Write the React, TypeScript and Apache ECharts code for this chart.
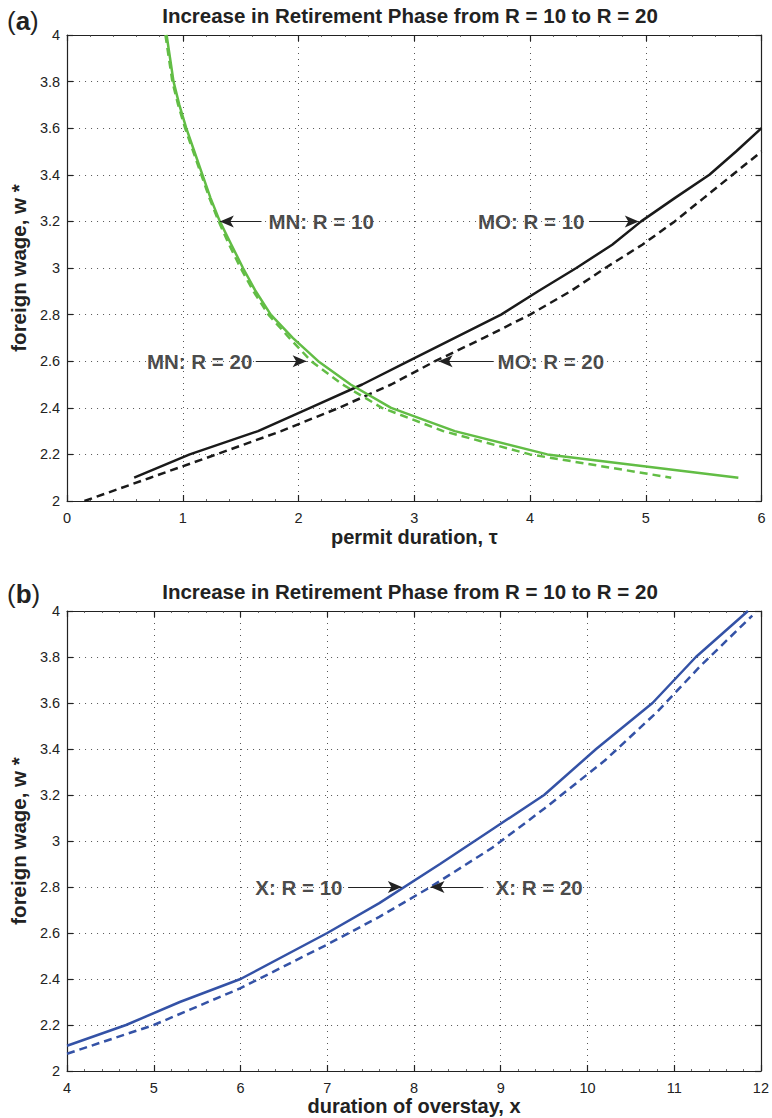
import React, { useEffect, useRef } from "react";
import * as echarts from "echarts";

// ---------- Panel (a) data: permit duration (tau) vs foreign wage (w*) ----------
const moR10Tau = [0.58, 1.06, 1.65, 2.1, 2.55, 2.95, 3.35, 3.75, 4.07, 4.4, 4.71, 4.96, 5.25, 5.55, 5.78, 6.0];
const moR10W = [2.1, 2.2, 2.3, 2.4, 2.5, 2.6, 2.7, 2.8, 2.9, 3.0, 3.1, 3.2, 3.3, 3.4, 3.5, 3.6];

const moR20Tau = [0.15, 0.72, 1.29, 1.85, 2.35, 2.8, 3.18, 3.6, 4.0, 4.35, 4.65, 4.97, 5.25, 5.5, 5.75, 6.0];
const moR20W = [2.0, 2.1, 2.2, 2.3, 2.4, 2.5, 2.6, 2.7, 2.8, 2.9, 3.0, 3.1, 3.2, 3.3, 3.4, 3.5];

const mnR10Tau = [0.86, 0.89, 0.92, 0.97, 1.03, 1.1, 1.17, 1.24, 1.32, 1.42, 1.52, 1.63, 1.76, 1.95, 2.17, 2.45, 2.8, 3.35, 4.15, 5.8];
const mnR10W = [4.0, 3.9, 3.8, 3.7, 3.6, 3.5, 3.4, 3.3, 3.2, 3.1, 3.0, 2.9, 2.8, 2.7, 2.6, 2.5, 2.4, 2.3, 2.2, 2.1];

const mnR20Tau = [0.85, 0.88, 0.91, 0.96, 1.02, 1.09, 1.16, 1.23, 1.31, 1.4, 1.5, 1.61, 1.74, 1.92, 2.11, 2.38, 2.72, 3.25, 4.0, 5.22];
const mnR20W = [4.0, 3.9, 3.8, 3.7, 3.6, 3.5, 3.4, 3.3, 3.2, 3.1, 3.0, 2.9, 2.8, 2.7, 2.6, 2.5, 2.4, 2.3, 2.2, 2.1];

// ---------- Panel (b) data: duration of overstay (x) vs foreign wage (w*) ----------
const xR10X = [4.0, 4.68, 5.3, 6.0, 7.0, 7.6, 8.3, 8.9, 9.5, 10.1, 10.75, 11.25, 11.85];
const xR10W = [2.11, 2.2, 2.3, 2.4, 2.6, 2.73, 2.9, 3.05, 3.2, 3.4, 3.6, 3.8, 4.0];

const xR20X = [4.0, 5.0, 6.0, 7.0, 7.6, 8.19, 8.9, 9.5, 10.2, 10.8, 11.3, 11.9];
const xR20W = [2.075, 2.2, 2.36, 2.55, 2.67, 2.8, 2.97, 3.14, 3.35, 3.56, 3.76, 3.98];

// ---------- Text ----------
const titleText = "Increase in Retirement Phase from R = 10 to R = 20";
const yName = "foreign wage, w *";
const xNameA = "permit duration, \u03c4";
const xNameB = "duration of overstay, x";

// annotations: [label, textX, y, arrowFromX, arrowToX]
const annotA: [string, number, number, number, number][] = [
  ["MN: R = 10", 1.74, 3.2, 1.68, 1.32],
  ["MN: R = 20", 0.69, 2.6, 1.63, 2.07],
  ["MO: R = 10", 3.55, 3.2, 4.51, 4.94],
  ["MO: R = 20", 3.72, 2.6, 3.68, 3.21],
];
const annotB: [string, number, number, number, number][] = [
  ["X: R = 10", 6.17, 2.8, 7.24, 7.86],
  ["X: R = 20", 8.94, 2.8, 8.8, 8.19],
];

const FONT = "'Liberation Sans', Arial, Helvetica, sans-serif";
const BLACK = "#1a1a1a";
const GREEN = "#62bd45";
const BLUE = "#3452a6";

const pairs = (xs: number[], ys: number[]) => xs.map((x, i) => [x, ys[i]]);

function xAxes(gridIndex: number, min: number, max: number, name: string, nameGap: number) {
  const common = {
    gridIndex,
    type: "value",
    min,
    max,
    interval: 1,
    axisLine: { show: true, onZero: false, lineStyle: { color: "#222", width: 1.2 } },
    axisTick: { show: true, inside: true, length: 6, lineStyle: { color: "#222", width: 1.2 } },
    minorTick: { show: true, splitNumber: 5, length: 2, lineStyle: { color: "#444", width: 0.8 } },
  };
  return [
    {
      ...common,
      position: "bottom",
      name,
      nameLocation: "middle",
      nameGap,
      nameTextStyle: { fontFamily: FONT, fontSize: 20, fontWeight: "bold", color: "#222", verticalAlign: "middle" },
      axisLabel: { show: true, margin: 9, fontFamily: FONT, fontSize: 14.5, color: "#222" },
      splitLine: { show: true, lineStyle: { color: "#555", type: [1, 5], width: 1 } },
    },
    {
      ...common,
      position: "top",
      axisLabel: { show: false },
      splitLine: { show: false },
    },
  ];
}

function yAxes(gridIndex: number) {
  const common = {
    gridIndex,
    type: "value",
    min: 2,
    max: 4,
    interval: 0.2,
    axisLine: { show: true, onZero: false, lineStyle: { color: "#222", width: 1.2 } },
    axisTick: { show: true, inside: true, length: 6, lineStyle: { color: "#222", width: 1.2 } },
  };
  return [
    {
      ...common,
      position: "left",
      name: yName,
      nameLocation: "middle",
      nameGap: 44,
      nameRotate: 90,
      nameTextStyle: { fontFamily: FONT, fontSize: 20.5, fontWeight: "bold", color: "#222", verticalAlign: "middle" },
      axisLabel: {
        show: true,
        margin: 7,
        fontFamily: FONT,
        fontSize: 14.5,
        color: "#222",
        formatter: (v: number) => String(Math.round(v * 10) / 10),
      },
      splitLine: { show: true, lineStyle: { color: "#555", type: [1, 5], width: 1 } },
    },
    {
      ...common,
      position: "right",
      axisLabel: { show: false },
      splitLine: { show: false },
    },
  ];
}

function lineSeries(axisIdx: number, xs: number[], ys: number[], color: string, dashed: boolean) {
  return {
    type: "line",
    xAxisIndex: axisIdx,
    yAxisIndex: axisIdx,
    data: pairs(xs, ys),
    showSymbol: false,
    symbol: "none",
    smooth: false,
    clip: true,
    silent: true,
    z: dashed ? 3 : 4,
    lineStyle: { color, width: 2.5, type: dashed ? [8, 5] : "solid" },
  };
}

function annotSeries(axisIdx: number, annots: [string, number, number, number, number][]) {
  return {
    type: "scatter",
    xAxisIndex: axisIdx,
    yAxisIndex: axisIdx,
    symbolSize: 0,
    silent: true,
    z: 6,
    data: annots.map((a) => ({
      value: [a[1], a[2]],
      label: {
        show: true,
        position: "right",
        distance: 0,
        formatter: a[0],
        fontFamily: FONT,
        fontSize: 20.5,
        fontWeight: "bold",
        color: "#1a1a1a",
        verticalAlign: "middle",
      },
    })),
    markLine: {
      silent: true,
      symbol: ["none", "arrow"],
      symbolSize: [9, 14],
      label: { show: false },
      lineStyle: { color: "#222", width: 1, type: "solid" },
      data: annots.map((a) => [{ coord: [a[3], a[2]] }, { coord: [a[4], a[2]] }]),
    },
  };
}

function panelLabel(letter: string, y: number) {
  return {
    type: "text",
    x: 7,
    y,
    style: {
      text: `{p|(}{b|${letter}}{p|)}`,
      verticalAlign: "middle",
      rich: {
        p: { fontFamily: FONT, fontSize: 26, fontWeight: "normal", fill: "#222" },
        b: { fontFamily: FONT, fontSize: 26, fontWeight: "bold", fill: "#222" },
      },
    },
  };
}

function titleEl(y: number) {
  return {
    type: "text",
    x: 410,
    y,
    style: {
      text: titleText,
      align: "center",
      verticalAlign: "middle",
      fontFamily: FONT,
      fontSize: 20.5,
      fontWeight: "bold",
      fill: "#222",
    },
  };
}

export default function App() {
  const ref = useRef<HTMLDivElement>(null);
  useEffect(() => {
    if (!ref.current) return;
    const chart = echarts.init(ref.current, null, { renderer: "svg" });
    const option = {
      animation: false,
      backgroundColor: "#fff",
      grid: [
        { left: 58.5, top: 35, width: 703, height: 466 },
        { left: 58.5, top: 611, width: 703, height: 460 },
      ],
      xAxis: [...xAxes(0, 0, 6, xNameA, 36), ...xAxes(1, 4, 12, xNameB, 33)],
      yAxis: [...yAxes(0), ...yAxes(1)],
      graphic: [panelLabel("a", 21), titleEl(15), panelLabel("b", 594), titleEl(591)],
      series: [
        lineSeries(0, moR20Tau, moR20W, BLACK, true),
        lineSeries(0, moR10Tau, moR10W, BLACK, false),
        lineSeries(0, mnR20Tau, mnR20W, GREEN, true),
        lineSeries(0, mnR10Tau, mnR10W, GREEN, false),
        annotSeries(0, annotA),
        lineSeries(2, xR20X, xR20W, BLUE, true),
        lineSeries(2, xR10X, xR10W, BLUE, false),
        annotSeries(2, annotB),
      ],
    };
    chart.setOption(option as any);
    return () => chart.dispose();
  }, []);
  return (
    <div
      ref={ref}
      style={{ position: "absolute", left: 0, top: 0, width: 772, height: 1118, background: "#fff" }}
    />
  );
}
